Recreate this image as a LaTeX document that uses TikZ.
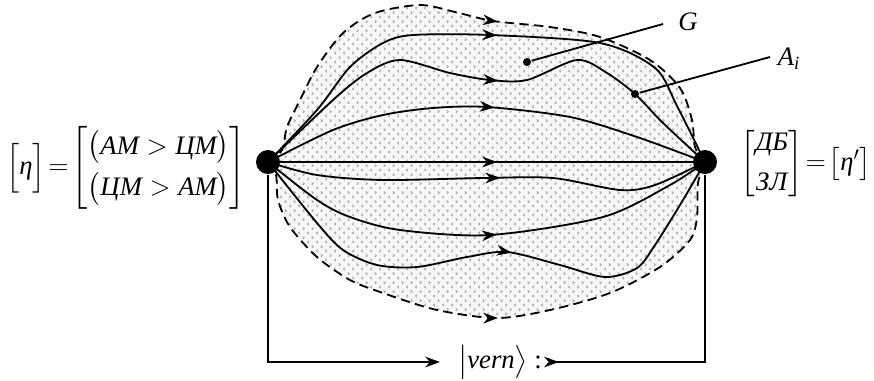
\documentclass[tikz,border=0pt]{standalone}
\usepackage{fontspec}
\setmainfont{Liberation Serif}
\usepackage{amsmath}
\usetikzlibrary{arrows.meta,decorations.markings,patterns.meta}

\tikzdeclarepattern{
  name=chevrons,
  type=uncolored,
  bottom left={(0pt,0pt)},
  top right={(7pt,7pt)},
  tile size={(7pt,7pt)},
  code={
    \draw[line width=0.5pt] (2.4pt,0.6pt) -- (1.1pt,1.6pt) -- (2.4pt,2.6pt);
    \draw[line width=0.5pt] (4.6pt,4.1pt) -- (5.9pt,5.1pt) -- (4.6pt,6.1pt);
  }
}

\begin{document}
\begin{tikzpicture}[x=0.75pt,y=-0.75pt,line width=1.35pt,
  every node/.style={font=\fontsize{20}{24}\selectfont},
  bigdot/.style={circle,fill,inner sep=0pt,minimum size=18pt},
  smalldot/.style={circle,fill,inner sep=0pt,minimum size=6pt},
  border/.style={dash pattern=on 7pt off 4pt},
  tip/.style={-{Stealth[length=11pt,width=8pt,inset=3.5pt]}},
  flow/.style={postaction={decorate,decoration={markings,
      mark=at position #1 with {\arrow{Stealth[length=11pt,width=8pt,inset=3.5pt]}}}}},
  flow/.default=0.52]

\useasboundingbox (0,0) rectangle (874,380);

\coordinate (src) at (268,162);
\coordinate (snk) at (705,162);

% region G
\fill[gray!6]
  plot[smooth] coordinates {(src) (282,150) (287,127) (300,100) (317,67) (343,33) (375,13) (420,5) (455,12) (493,21) (550,27) (600,37) (650,60) (680,88) (692,120) (695,147) (snk)}
  -- plot[smooth] coordinates {(snk) (698,183) (697,217) (690,240) (660,267) (610,293) (550,310) (497,318) (437,310) (383,293) (350,280) (317,257) (290,227) (278,200) (276,175) (src)}
  -- cycle;
\fill[pattern=chevrons,pattern color=gray!85]
  plot[smooth] coordinates {(src) (282,150) (287,127) (300,100) (317,67) (343,33) (375,13) (420,5) (455,12) (493,21) (550,27) (600,37) (650,60) (680,88) (692,120) (695,147) (snk)}
  -- plot[smooth] coordinates {(snk) (698,183) (697,217) (690,240) (660,267) (610,293) (550,310) (497,318) (437,310) (383,293) (350,280) (317,257) (290,227) (278,200) (276,175) (src)}
  -- cycle;

\draw[border,flow=0.53] plot[smooth] coordinates {(src) (282,150) (287,127) (300,100) (317,67) (343,33) (375,13) (420,5) (455,12) (493,21) (550,27) (600,37) (650,60) (680,88) (692,120) (695,147) (snk)};
\draw[border,flow=0.51] plot[smooth] coordinates {(src) (276,175) (278,200) (290,227) (317,257) (350,280) (383,293) (437,310) (497,318) (550,310) (610,293) (660,267) (690,240) (697,217) (698,183) (snk)};

% paths
\draw[flow=0.51] plot[smooth] coordinates {(src) (317,110) (350,67) (383,43) (413,35) (490,35) (600,43) (655,68) (677,106) (snk)};
\draw[flow=0.52] plot[smooth] coordinates {(src) (333,100) (367,73) (400,60) (450,73) (490,80) (527,80) (577,60) (607,73) (635,94) (663,123) (snk)};
\draw[flow=0.52] plot[smooth] coordinates {(src) (333,130) (383,115) (433,108) (487,107) (570,117) (637,137) (snk)};
\draw[flow=0.524] (src) -- (snk);
\draw[flow=0.525] plot[smooth] coordinates {(src) (317,175) (383,180) (483,178) (553,178) (620,190) (655,185) (snk)};
\draw[flow=0.525] plot[smooth] coordinates {(src) (317,200) (350,217) (400,230) (490,235) (603,217) (670,185) (snk)};
\draw[flow=0.53] plot[smooth] coordinates {(src) (317,223) (343,250) (377,265) (417,267) (467,257) (507,252) (560,265) (605,277) (637,268) (655,245) (683,200) (snk)};

\node[bigdot] (srcdot) at (src) {};
\node[bigdot] (snkdot) at (snk) {};

% labels G, A_i
\node[smalldot] (gdot) at (527,62) {};
\node[smalldot] (adot) at (635,94) {};
\coordinate (gend) at (663,24);
\coordinate (aend) at (770,57);
\draw (gdot) -- (gend);
\draw (adot) -- (aend);
\node (glbl) at (688,22) {\textit{G}};
\node (albl) at (789,59) {$\textit{A}_{\textit{i}}$};

% states
\node (etal) at (126,168) {$\Big[\textit{η}\Big]\!=\!\left[\begin{matrix}\big(\textit{AM} > \textit{ЦМ}\big)\\[6pt] \big(\textit{ЦМ} > \textit{AM}\big)\end{matrix}\right]$};
\node (etar) at (806,164) {$\left[\begin{matrix}\textit{ДБ}\\[6pt] \textit{ЗЛ}\end{matrix}\right]\!=\!\big[\textit{η}'\big]$};

% bottom
\node[inner xsep=1pt] (vern) at (500,362) {$\big|\textit{vern}\big\rangle$ :};
\draw[tip,shorten >=12pt] (srcdot) |- (vern.west);
\draw[-{Stealth[length=11pt,width=8pt,inset=3.5pt,reversed]}] (snkdot) |- (vern.east);

\end{tikzpicture}
\end{document}
